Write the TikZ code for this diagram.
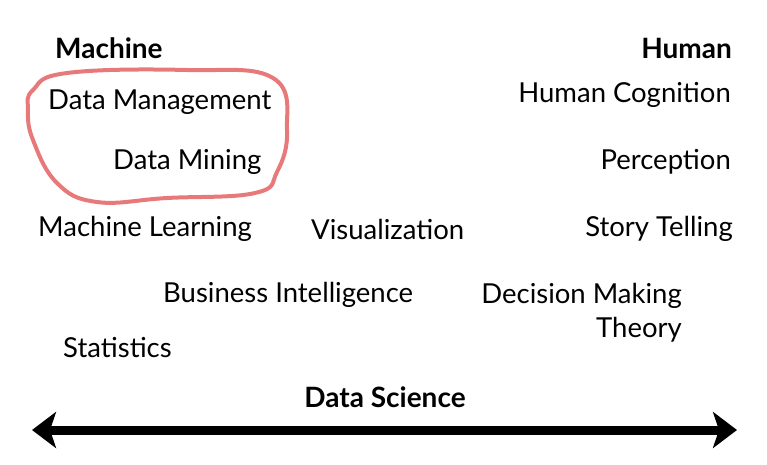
\documentclass[tikz,border=0pt]{standalone}
\usepackage{fontspec}
\setmainfont{Lato}
\usetikzlibrary{arrows.meta}
\begin{document}
\begin{tikzpicture}[x=1pt,y=-1pt,
  lbl/.style={font=\fontsize{27.5}{34}\selectfont, inner sep=0pt},
  hdr/.style={font=\fontsize{28}{32}\selectfont\bfseries, inner sep=0pt}]
\useasboundingbox (0,0) rectangle (767,465);
\node[hdr, anchor=west] (machine) at (55,48) {Machine};
\node[hdr, anchor=east] (human) at (732,48) {Human};
\node[lbl, anchor=west] (dm) at (48,102) {Data Management};
\node[lbl, anchor=west] (dmin) at (113,162) {Data Mining};
\node[lbl, anchor=east] (hc) at (731,95) {Human Cognition};
\node[lbl, anchor=east] (perc) at (731,162) {Perception};
\node[lbl, anchor=east] (story) at (733,229) {Story Telling};
\node[lbl, anchor=west] (ml) at (38,229) {Machine Learning};
\node[lbl, anchor=west] (vis) at (311,229) {Visualization};
\node[lbl, anchor=west] (bi) at (163,295) {Business Intelligence};
\node[lbl, anchor=north east, align=right] (dmt) at (682,283) {Decision Making\\Theory};
\node[lbl, anchor=west] (stat) at (63,348) {Statistics};
\node[hdr, anchor=center] (ds) at (385,397) {Data Science};
\coordinate (aL) at (32,430);
\coordinate (aR) at (737,430);
\draw[line width=9pt, {Stealth[length=24pt,width=36pt,inset=6pt]}-{Stealth[length=24pt,width=36pt,inset=6pt]}] (aL) -- (aR);
\draw[color={rgb,255:red,232;green,121;blue,122}, line width=4pt]
  plot[smooth cycle, tension=0.7] coordinates {(33,90) (67,73) (187,70) (273,78) (287,130) (277,172) (255,193) (167,198) (97,202) (57,183) (33,140) (28,110)};
\end{tikzpicture}
\end{document}
